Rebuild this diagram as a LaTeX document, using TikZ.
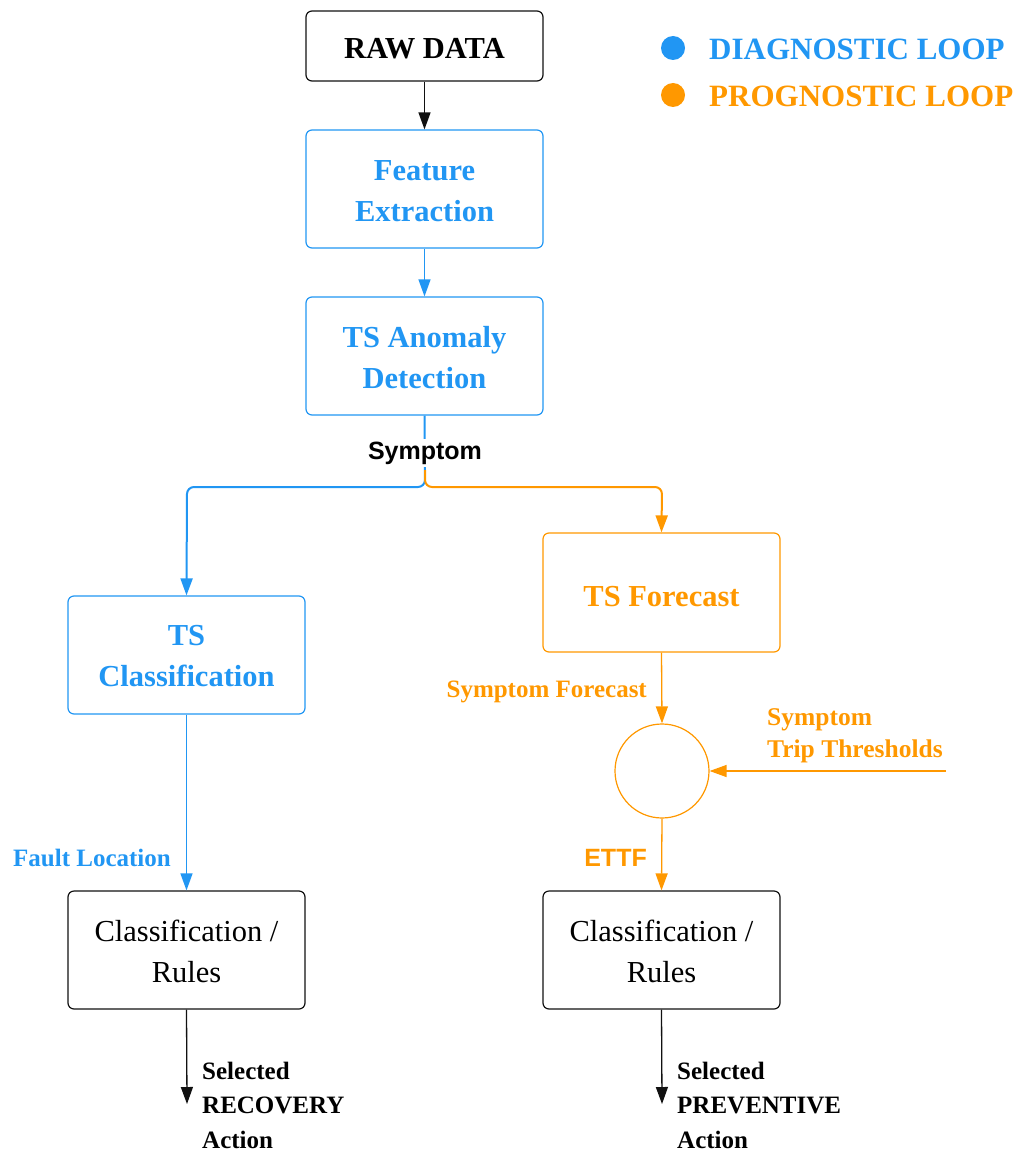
\documentclass[tikz,border=0pt]{standalone}
\usepackage{fontspec}
\setmainfont{Liberation Serif}
\newfontfamily\labelsans{Liberation Sans}
\usetikzlibrary{arrows.meta}

\definecolor{diag}{HTML}{2196F3}
\definecolor{prog}{HTML}{FF9800}
\definecolor{ink}{HTML}{111111}

\tikzset{
  block/.style={draw, rounded corners=6pt, line width=1.2pt, minimum width=237pt,
    minimum height=118pt, inner sep=0pt},
  title/.style={align=center, inner sep=0pt, font=\fontsize{30.5}{41}\selectfont\bfseries},
  plain/.style={align=center, inner sep=0pt, font=\fontsize{30.5}{41}\selectfont},
  lbl/.style={inner sep=0pt, font=\fontsize{25}{32}\selectfont\bfseries},
  sanslbl/.style={inner sep=1pt, font=\fontsize{25}{30}\selectfont\labelsans\bfseries},
  tip/.style={-{Triangle[length=17pt,width=12pt]}},
  flow/.style={line width=1.3pt, tip},
  branch/.style={line width=2pt, rounded corners=7pt, tip},
  legendtext/.style={anchor=west, inner sep=0pt, font=\fontsize{31}{36}\selectfont\bfseries},
}

\begin{document}
\begin{tikzpicture}[x=1pt,y=-1pt]
  \useasboundingbox (0,0) rectangle (1019,1153);

  % main blocks
  \node[block, minimum height=70pt, ink] (raw) at (424.5,46) {};
  \node[block, diag] (feat) at (424.5,189) {};
  \node[block, diag] (anom) at (424.5,356) {};
  \node[block, diag] (cls) at (186.5,655) {};
  \node[block, prog, minimum height=119pt] (fc) at (661.5,592.5) {};
  \node[draw=prog, line width=1.2pt, circle, minimum size=94pt, inner sep=0pt] (cmp) at (662,771) {};
  \node[block, ink] (rulesL) at (186.5,950) {};
  \node[block, ink] (rulesR) at (661.5,950) {};

  % block captions
  \node[title, text=black] (rawT) at ([yshift=-3pt]raw.center) {RAW DATA};
  \node[title, text=diag] (featT) at ([yshift=-2pt]feat.center) {Feature\\Extraction};
  \node[title, text=diag] (anomT) at ([yshift=-2pt]anom.center) {TS Anomaly\\Detection};
  \node[title, text=diag] (clsT) at ([yshift=-1pt]cls.center) {TS\\Classification};
  \node[title, text=prog] (fcT) at ([yshift=-4pt]fc.center) {TS Forecast};
  \node[plain, text=black] (rulesLT) at ([yshift=-1pt]rulesL.center) {Classification /\\Rules};
  \node[plain, text=black] (rulesRT) at ([yshift=-1pt]rulesR.center) {Classification /\\Rules};

  % legend
  \fill[diag] (673,48) circle (12pt);
  \fill[prog] (673,95) circle (12pt);
  \node[legendtext, text=diag] (legD) at (709,49) {DIAGNOSTIC LOOP};
  \node[legendtext, text=prog] (legP) at (709,96) {PROGNOSTIC LOOP};

  % upper chain
  \draw[flow, ink] (raw.south) -- (feat.north);
  \draw[flow, diag] (feat.south) -- (anom.north);

  % symptom split
  \coordinate (split) at (425,487);
  \coordinate (splitL) at (187,487);
  \coordinate (splitR) at (662,487);
  \coordinate (forkO) at (425,470);
  \draw[branch, diag] (anom.south) -- (split) -- (splitL) -- (cls.north);
  \draw[branch, prog] (forkO) -- (split) -- (splitR) -- (fc.north);
  \node[sanslbl, fill=white, inner sep=3pt] (sym) at (425,453) {Symptom};

  % diagnostic branch
  \draw[flow, diag] (cls.south) -- (rulesL.north);
  \node[lbl, text=diag, anchor=east] (fault) at (171,858) {Fault Location};

  % prognostic branch
  \draw[flow, prog] (fc.south) -- (cmp.north);
  \node[lbl, text=prog, anchor=east] (sfc) at (647,692) {Symptom Forecast};
  \coordinate (thr) at (946,771);
  \draw[flow, prog] (thr) -- (cmp.east);
  \node[lbl, text=prog, anchor=west, align=left, font=\fontsize{25.5}{32}\selectfont\bfseries] (trip) at (767,736) {Symptom\\Trip Thresholds};
  \draw[flow, prog] (cmp.south) -- (rulesR.north);
  \node[sanslbl, text=prog, anchor=east, inner sep=0pt] (ettf) at (647,858) {ETTF};

  % selected actions
  \coordinate (outL) at (187,1104);
  \coordinate (outR) at (662,1104);
  \draw[flow, ink] (rulesL.south) -- (outL);
  \draw[flow, ink] (rulesR.south) -- (outR);
  \node[lbl, anchor=west, align=left, font=\fontsize{25}{34.5}\selectfont\bfseries] (actL) at (202,1105) {Selected\\RECOVERY\\Action};
  \node[lbl, anchor=west, align=left, font=\fontsize{25}{34.5}\selectfont\bfseries] (actR) at (677,1105) {Selected\\PREVENTIVE\\Action};
\end{tikzpicture}
\end{document}
